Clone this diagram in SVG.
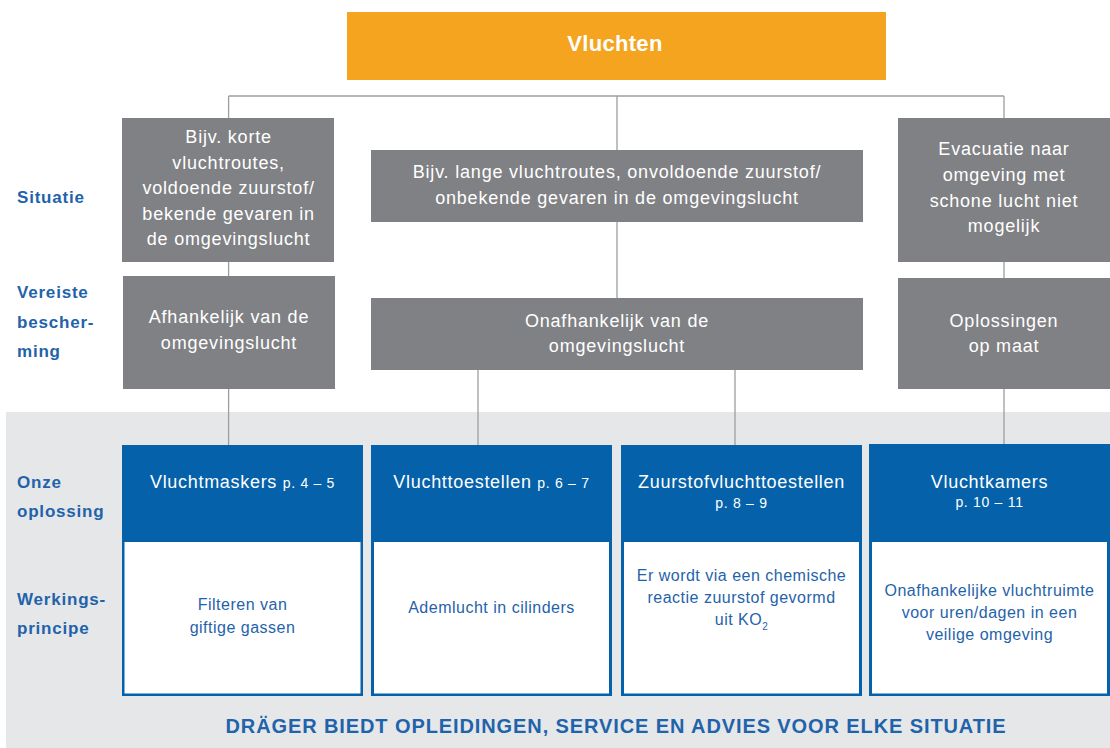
<svg xmlns="http://www.w3.org/2000/svg" width="1110" height="748" viewBox="0 0 1110 748">
<style>
.lbl{font-family:"Liberation Sans",Arial,sans-serif;font-weight:bold;font-size:17px;letter-spacing:0.8px;fill:#1F63AA}
.gbox{fill:#808184}
.gt{font-family:"Liberation Sans",Arial,sans-serif;font-size:18px;letter-spacing:0.8px;fill:#ffffff;text-anchor:middle}
.blue{fill:#0461AA}
.white{fill:#ffffff}
.ht{font-family:"Liberation Sans",Arial,sans-serif;font-size:18px;letter-spacing:0.7px;fill:#ffffff;text-anchor:middle}
.pg{font-size:14px}
.wt{font-family:"Liberation Sans",Arial,sans-serif;font-size:16px;letter-spacing:0.5px;fill:#1F63AA;text-anchor:middle}
.conn{stroke:#9d9ea1;stroke-width:1.3;fill:none}
</style>
<rect x="0" y="0" width="1110" height="748" fill="#ffffff"/>
<rect id="band" x="6" y="412" width="1104" height="336" fill="#E6E7E9"/>

<g id="connectors">
<path class="conn" d="M228.6 96 H1004 M228.6 96 V445 M617 96 V298 M478 370 V445 M735 370 V445 M1004 96 V444"/>
</g>

<g id="row-labels">
<text class="lbl" x="17" y="203">Situatie</text>
<text class="lbl" x="17" y="298">Vereiste</text>
<text class="lbl" x="17" y="327.5">bescher-</text>
<text class="lbl" x="17" y="357">ming</text>
<text class="lbl" x="17" y="488">Onze</text>
<text class="lbl" x="17" y="517">oplossing</text>
<text class="lbl" x="17" y="605">Werkings-</text>
<text class="lbl" x="17" y="633.5">principe</text>
</g>

<g id="vluchten">
<rect x="347" y="12" width="539" height="68" fill="#F5A41F"/>
<text x="615" y="50.5" font-family="'Liberation Sans',Arial,sans-serif" font-weight="bold" font-size="22" letter-spacing="0.3" fill="#ffffff" text-anchor="middle">Vluchten</text>
</g>

<g id="situatie-kort">
<rect class="gbox" x="122" y="118" width="212" height="144"/>
<text class="gt" x="228.6" y="143">Bijv. korte</text>
<text class="gt" x="228.6" y="168.5">vluchtroutes,</text>
<text class="gt" x="228.6" y="194">voldoende zuurstof/</text>
<text class="gt" x="228.6" y="219.5">bekende gevaren in</text>
<text class="gt" x="228.6" y="245">de omgevingslucht</text>
</g>

<g id="situatie-lang">
<rect class="gbox" x="371" y="150" width="492" height="72"/>
<text class="gt" x="617" y="178">Bijv. lange vluchtroutes, onvoldoende zuurstof/</text>
<text class="gt" x="617" y="203.5">onbekende gevaren in de omgevingslucht</text>
</g>

<g id="situatie-evacuatie">
<rect class="gbox" x="898" y="118" width="212" height="144"/>
<text class="gt" x="1004" y="155">Evacuatie naar</text>
<text class="gt" x="1004" y="181">omgeving met</text>
<text class="gt" x="1004" y="206.5">schone lucht niet</text>
<text class="gt" x="1004" y="232">mogelijk</text>
</g>

<g id="bescherming-afhankelijk">
<rect class="gbox" x="123" y="276" width="212" height="113"/>
<text class="gt" x="229" y="323">Afhankelijk van de</text>
<text class="gt" x="229" y="348.5">omgevingslucht</text>
</g>

<g id="bescherming-onafhankelijk">
<rect class="gbox" x="371" y="298" width="492" height="72"/>
<text class="gt" x="617" y="327">Onafhankelijk van de</text>
<text class="gt" x="617" y="352">omgevingslucht</text>
</g>

<g id="bescherming-maat">
<rect class="gbox" x="898" y="278" width="212" height="111"/>
<text class="gt" x="1004" y="327">Oplossingen</text>
<text class="gt" x="1004" y="352">op maat</text>
</g>

<g id="vluchtmaskers">
<rect class="blue" x="122" y="445" width="241" height="251"/>
<rect class="white" x="124.5" y="542" width="236" height="151.5"/>
<text class="ht" x="242.5" y="488">Vluchtmaskers <tspan class="pg">p. 4 – 5</tspan></text>
<text class="wt" x="242.5" y="610">Filteren van</text>
<text class="wt" x="242.5" y="632.5">giftige gassen</text>
</g>

<g id="vluchttoestellen">
<rect class="blue" x="371" y="445" width="241" height="251"/>
<rect class="white" x="374" y="542" width="235" height="151.5"/>
<text class="ht" x="491.5" y="488">Vluchttoestellen <tspan class="pg">p. 6 – 7</tspan></text>
<text class="wt" x="491.5" y="613">Ademlucht in cilinders</text>
</g>

<g id="zuurstofvluchttoestellen">
<rect class="blue" x="621" y="445" width="241" height="251"/>
<rect class="white" x="624" y="542" width="235" height="151.5"/>
<text class="ht" x="741.5" y="488">Zuurstofvluchttoestellen</text>
<text class="ht pg" x="741.5" y="507.5">p. 8 – 9</text>
<text class="wt" x="741.5" y="580.5">Er wordt via een chemische</text>
<text class="wt" x="741.5" y="602.5">reactie zuurstof gevormd</text>
<text class="wt" x="741.5" y="625">uit KO<tspan font-size="10" dy="5">2</tspan></text>
</g>

<g id="vluchtkamers">
<rect class="blue" x="869" y="444" width="241" height="252"/>
<rect class="white" x="872" y="542" width="235" height="151.5"/>
<text class="ht" x="989.5" y="488">Vluchtkamers</text>
<text class="ht pg" x="989.5" y="507">p. 10 – 11</text>
<text class="wt" x="989.5" y="596">Onafhankelijke vluchtruimte</text>
<text class="wt" x="989.5" y="618">voor uren/dagen in een</text>
<text class="wt" x="989.5" y="640">veilige omgeving</text>
</g>

<g id="footer">
<text x="616" y="733" font-family="'Liberation Sans',Arial,sans-serif" font-weight="bold" font-size="20" letter-spacing="0.9" fill="#1F63AA" text-anchor="middle">DRÄGER BIEDT OPLEIDINGEN, SERVICE EN ADVIES VOOR ELKE SITUATIE</text>
</g>
</svg>
